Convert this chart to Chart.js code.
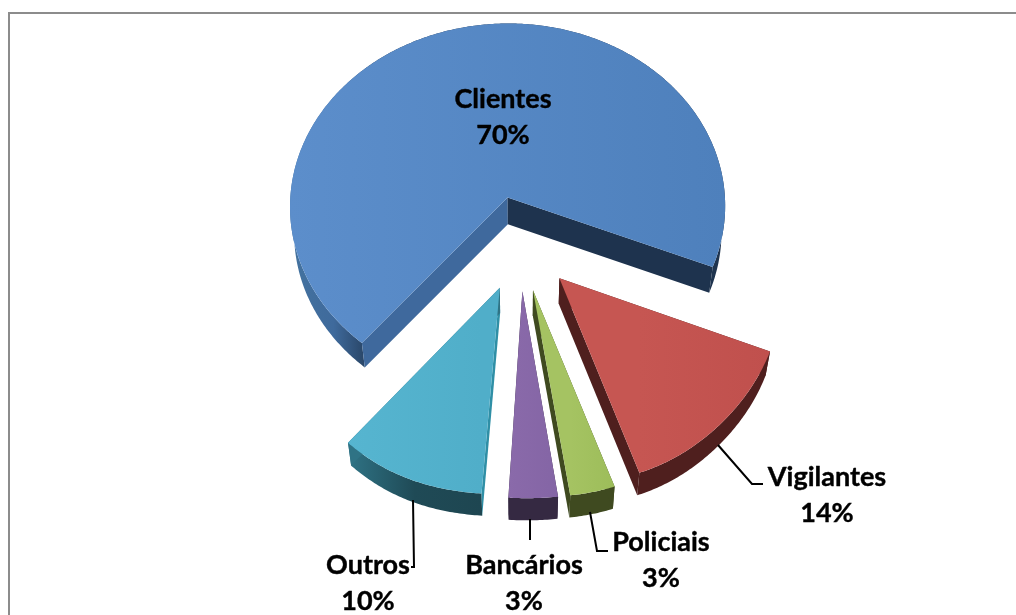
<!DOCTYPE html>
<html>
<head>
<meta charset="utf-8">
<title>Grafico</title>
<script src="https://cdn.jsdelivr.net/npm/chart.js@4"></script>
<style>
  body { margin: 0; background: #fff; }
  #wrap { position: relative; width: 1016px; height: 615px; overflow: hidden; }
  #frame { position: absolute; left: 8px; top: 12px; right: -4px; bottom: -4px;
           border-left: 2px solid #8c8c8c; border-top: 2px solid #8c8c8c; }
  #chart { position: absolute; left: 0; top: 0; }
</style>
</head>
<body>
<div id="wrap">
  <div id="frame"></div>
  <canvas id="chart" width="1016" height="615"></canvas>
</div>
<script>
// chart data
const categories = ['Clientes', 'Vigilantes', 'Policiais', 'Bancários', 'Outros'];
const percentages = [70, 14, 3, 3, 10];

// slice colours: top face left/right, rim stops, start cut, end cut
const topColors = [['#5C8ECB', '#4E80BC'], ['#C65652', '#C0504D'], ['#A5C362', '#9DBD5A'], ['#8A6AAA', '#8465A5'], ['#56B5D0', '#50AEC9']];
const rimColors = [
    [[0, '#44739F'], [0.1, '#3F6A9C'], [0.17, '#2A4769'], [0.19, '#1F344F'], [1, '#1F344F']],
    [[0, '#4F1F1E'], [1, '#4F1F1E']],
    [[0, '#3F4A20'], [1, '#3F4A20']],
    [[0, '#352942'], [1, '#352942']],
    [[0, '#2F7385'], [0.5, '#1F4A56'], [1, '#1E4651']]
];
const startCutColors = ['#3F699D', '#4F1F1E', '#3F4A20', '#352942', '#2F8FA6'];
const endCutColors = ['#1E334E', '#4F1F1E', '#3F4A20', '#352942', '#2F7385'];

// label text anchors, one per category
const labelX = [503, 827, 661, 524, 368];
const labelY = [108, 486, 551, 574, 574];
const leaders = [
    [],
    [[718, 445], [752, 484], [763, 484]],
    [[590, 512], [597, 551], [608, 551]],
    [[530, 519], [530, 540]],
    [[413, 500], [414, 567], [411, 567]]
];

// fake 3d camera
const tilt = 0.85;
const persp = 0.000227;
const bottomShrink = 0.982;

const pie3d = {
    id: 'pie3d',
    beforeDatasetDraw(chart, args) {
        const ctx = chart.ctx;
        args.meta.data.forEach((arc, i) => drawSlice(ctx, arc, i));
        return false;  // arcs are drawn above, in perspective
    },
    afterDraw(chart) {
        drawLabels(chart.ctx);
    }
};

function project(arc, cosA, sinA, r) {
    const mid = (arc.startAngle + arc.endAngle) / 2;
    const off = arc.options.offset;
    const u = Math.cos(mid) * off + cosA * r;
    const v = Math.sin(mid) * off + sinA * r;
    const f = 1 / (1 - persp * v);
    // front of the pie spreads out a bit more than plain perspective
    const nearX = v > 0 ? 0.15 * Math.pow(v / 277, 10) * (u + 30) : 0;
    const nearY = v > 0 ? 5 * Math.pow(v / 277, 3) : 0;
    return { x: arc.x + u * f + nearX, y: arc.y + tilt * v * f + nearY, v: v };
}

function lower(arc, p) {
    return { x: arc.x + (p.x - arc.x) * bottomShrink, y: p.y + 26 - p.v * 0.014 };
}

function fillPoly(ctx, pts, style) {
    ctx.beginPath();
    pts.forEach((p, n) => n ? ctx.lineTo(p.x, p.y) : ctx.moveTo(p.x, p.y));
    ctx.closePath();
    ctx.fillStyle = style;
    ctx.fill();
}

function hGradient(ctx, pts, stops) {
    const xs = pts.map(p => p.x);
    const g = ctx.createLinearGradient(Math.min(...xs), 0, Math.max(...xs), 0);
    stops.forEach(s => g.addColorStop(s[0], s[1]));
    return g;
}

function drawSlice(ctx, arc, i) {
    const r = arc.outerRadius;
    const rim = [];
    const steps = Math.ceil((arc.endAngle - arc.startAngle) / 0.01);
    for (let n = 0; n <= steps; n++) {
        const a = arc.startAngle + (arc.endAngle - arc.startAngle) * n / steps;
        rim.push(project(arc, Math.cos(a), Math.sin(a), r));
    }
    const apex = project(arc, 0, 0, 0);
    const rimLow = rim.map(p => lower(arc, p));
    const apexLow = lower(arc, apex);
    const first = rim[0], last = rim[rim.length - 1];

    // sides first, then the top on top of them
    fillPoly(ctx, rim.concat(rimLow.slice().reverse()), hGradient(ctx, rim, rimColors[i]));
    fillPoly(ctx, [apex, first, rimLow[0], apexLow], startCutColors[i]);
    fillPoly(ctx, [apex, last, rimLow[rimLow.length - 1], apexLow], endCutColors[i]);
    const c = topColors[i];
    fillPoly(ctx, [apex].concat(rim), hGradient(ctx, rim, [[0, c[0]], [1, c[1]]]));
}

function drawLabels(ctx) {
    ctx.save();
    ctx.strokeStyle = '#000';
    ctx.lineWidth = 2;
    leaders.forEach(line => {
        if (!line.length) return;
        ctx.beginPath();
        line.forEach((p, n) => n ? ctx.lineTo(p[0], p[1]) : ctx.moveTo(p[0], p[1]));
        ctx.stroke();
    });
    ctx.fillStyle = '#000';
    ctx.textAlign = 'center';
    ctx.textBaseline = 'alphabetic';
    ctx.font = 'bold 27px Lato';
    ctx.lineWidth = 0.4;
    ctx.lineJoin = 'round';
    categories.forEach((name, i) => {
        const pct = percentages[i] + '%';
        ctx.fillText(name, labelX[i], labelY[i]);
        ctx.strokeText(name, labelX[i], labelY[i]);
        ctx.fillText(pct, labelX[i], labelY[i] + 36);
        ctx.strokeText(pct, labelX[i], labelY[i] + 36);
    });
    ctx.restore();
}

new Chart(document.getElementById('chart'), {
    type: 'pie',
    data: {
        labels: categories,
        datasets: [{
            data: percentages,
            offset: 56,
            radius: 220,
            borderWidth: 0,
            backgroundColor: topColors.map(c => c[1])
        }]
    },
    options: {
        responsive: false,
        animation: false,
        rotation: 220,
        layout: { padding: { left: 26, right: 0, top: 0, bottom: 129 } },
        plugins: { legend: { display: false }, tooltip: { enabled: false } }
    },
    plugins: [pie3d]
});
</script>
</body>
</html>
